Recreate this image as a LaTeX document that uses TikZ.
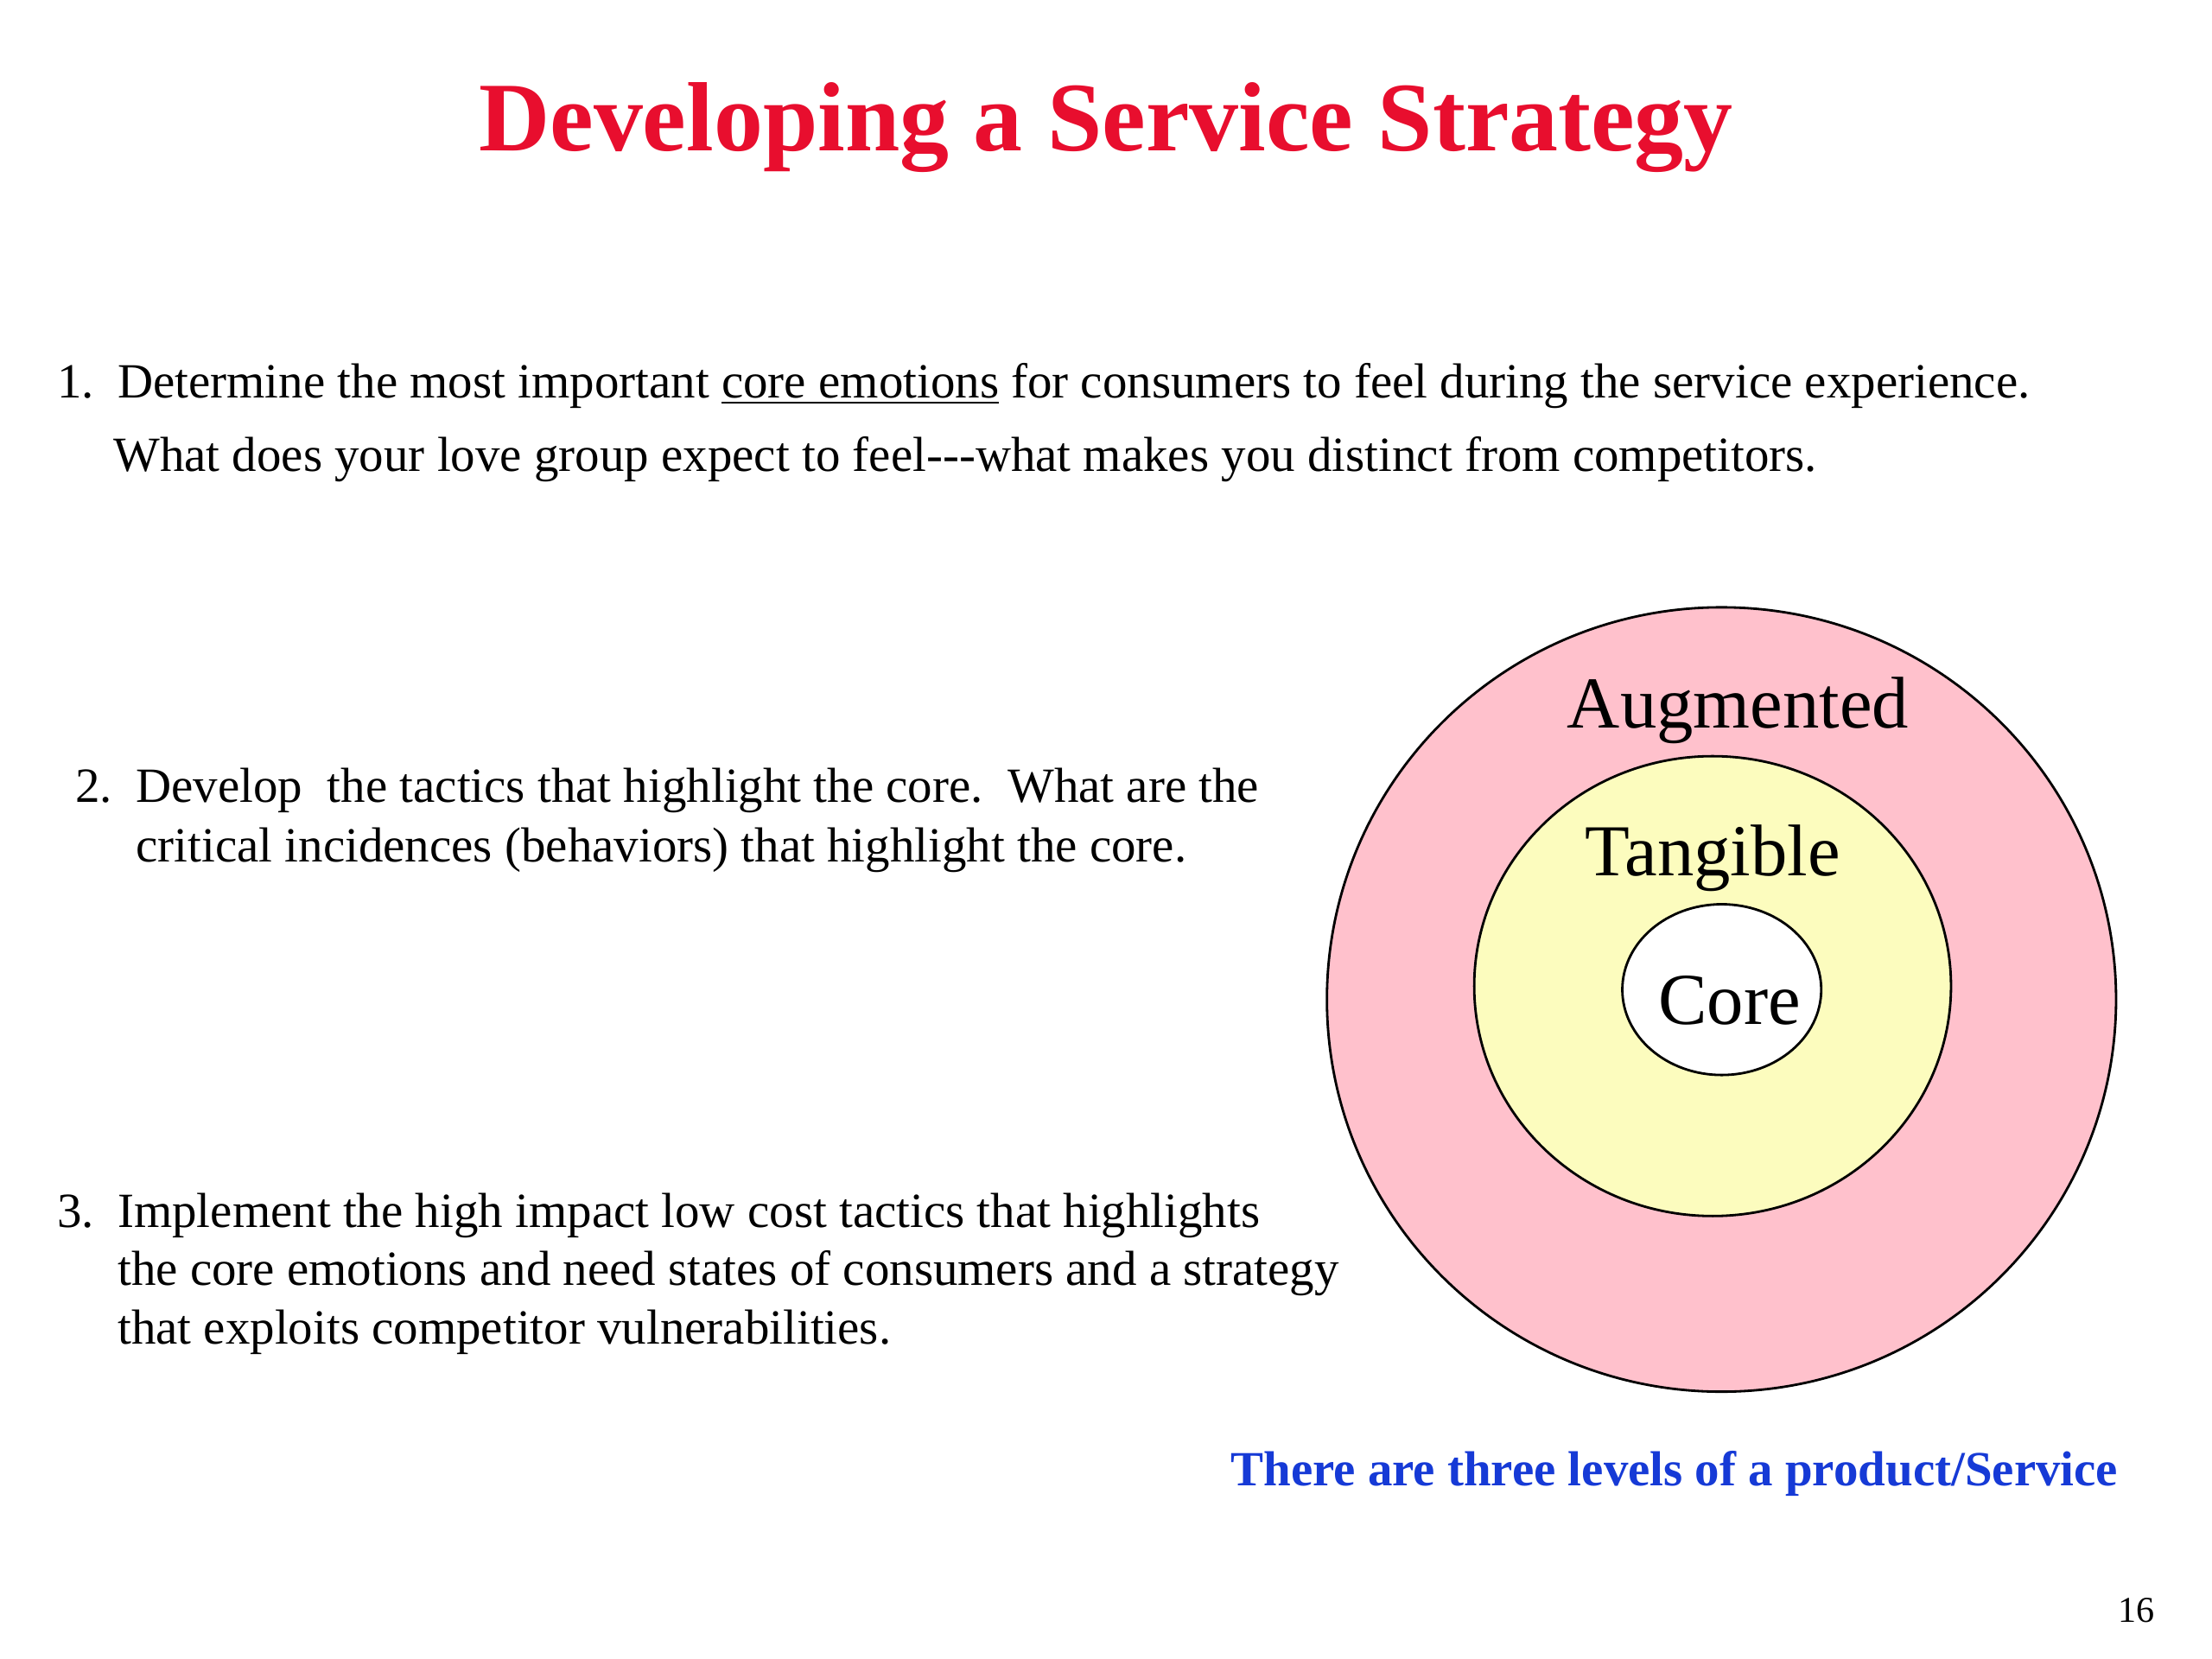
\documentclass[tikz,border=0pt]{standalone}
\usepackage{fontspec}
\setmainfont{Liberation Serif}
\usetikzlibrary{shapes.geometric}
\definecolor{titlered}{RGB}{232,14,46}
\definecolor{augpink}{RGB}{255,193,204}
\definecolor{tanyellow}{RGB}{252,252,190}
\definecolor{noteblue}{RGB}{22,58,214}
\begin{document}
\begin{tikzpicture}[x=0.0163265cm,y=-0.0163265cm,
  txt/.style={anchor=base west, inner sep=0pt, font=\fontsize{16.2}{19}\selectfont},
  ring/.style={draw=black, line width=0.8pt, ellipse, inner sep=0pt},
  lvl/.style={inner sep=0pt, anchor=base, font=\fontsize{24.1}{28}\selectfont}]
\useasboundingbox (0,0) rectangle (1568,1176);
\fill[white] (0,0) rectangle (1568,1176);

\node[anchor=base, inner sep=0pt, font=\bfseries\fontsize{32.4}{38}\selectfont, text=titlered] (title) at (784,107) {Developing a Service Strategy};

\node[txt] (n1) at (40,282) {1.};
\node[txt] (s1a) at (83,282) {Determine the most important \underline{core emotions} for consumers to feel during the service experience.};
\node[txt] (s1b) at (80,334) {What does your love group expect to feel-{}-{}-what makes you distinct from competitors.};

\node[txt] (n2) at (53,569) {2.};
\node[txt] (s2a) at (96,569) {Develop\ \ the tactics that highlight the core.\ \ What are the};
\node[txt] (s2b) at (96,611) {critical incidences (behaviors) that highlight the core.};

\node[txt] (n3) at (40,870) {3.};
\node[txt] (s3a) at (83,870) {Implement the high impact low cost tactics that highlights};
\node[txt] (s3b) at (83,911) {the core emotions and need states of consumers and a strategy};
\node[txt] (s3c) at (83,953) {that exploits competitor vulnerabilities.};

\node[ring, fill=augpink, minimum width=9.133cm, minimum height=9.078cm] (outer) at (1220.3,708.5) {};
\node[ring, fill=tanyellow, minimum width=5.518cm, minimum height=5.322cm] (middle) at (1214,699) {};
\node[ring, fill=white, minimum width=2.302cm, minimum height=1.976cm] (inner) at (1220.5,701.5) {};

\node[lvl] (aug) at (1232,516) {Augmented};
\node[lvl] (tan) at (1214,621) {Tangible};
\node[lvl] (core) at (1226,726) {Core};

\node[anchor=base west, inner sep=0pt, font=\bfseries\fontsize{16.2}{20}\selectfont, text=noteblue] (note) at (872,1053) {There are three levels of a product/Service};
\node[anchor=base east, inner sep=0pt, font=\fontsize{12}{14}\selectfont] (pg) at (1528,1150) {16};
\end{tikzpicture}
\end{document}
